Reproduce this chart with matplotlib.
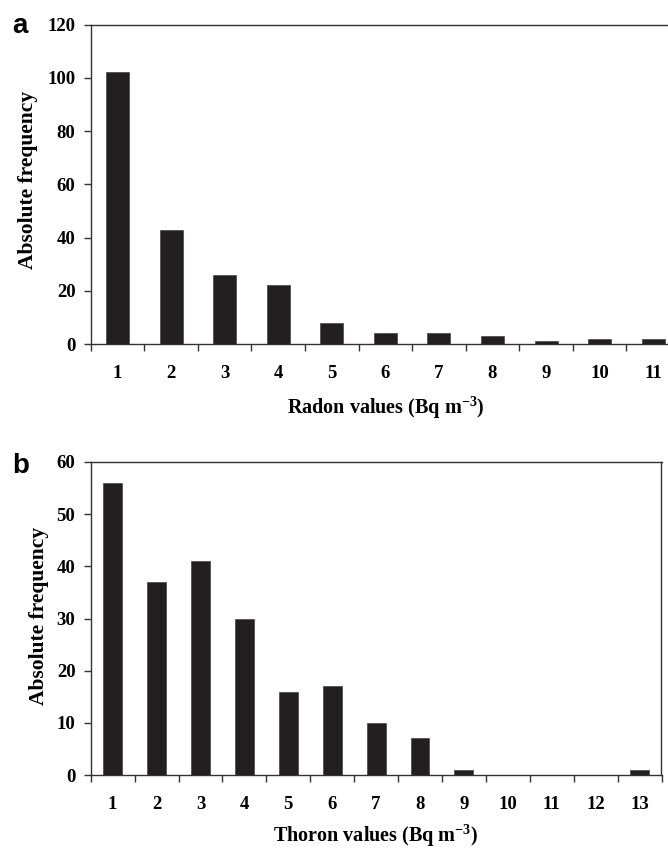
import matplotlib
matplotlib.use("Agg")
import matplotlib.pyplot as plt
import numpy as np

radon_classes = ["1", "2", "3", "4", "5", "6", "7", "8", "9", "10", "11"]
radon_freq = [102, 43, 26, 22, 8, 4, 4, 3, 1, 2, 2]

thoron_classes = ["1", "2", "3", "4", "5", "6", "7", "8", "9", "10", "11", "12", "13"]
thoron_freq = [56, 37, 41, 30, 16, 17, 10, 7, 1, 0, 0, 0, 1]

plt.rcParams['font.family'] = ['Liberation Serif', 'DejaVu Serif']
plt.rcParams['font.weight'] = 'bold'
plt.rcParams['mathtext.fontset'] = 'custom'
plt.rcParams['mathtext.rm'] = 'Liberation Serif:bold'
plt.rcParams['mathtext.it'] = 'Liberation Serif:bold'
plt.rcParams['mathtext.bf'] = 'Liberation Serif:bold'
plt.rcParams['mathtext.default'] = 'regular'

W, H = 668, 852
fig = plt.figure(figsize=(W / 100, H / 100), dpi=100)

def frac(x0, y0, x1, y1):
    return [x0 / W, 1 - y1 / H, (x1 - x0) / W, (y1 - y0) / H]

spine_col = '#333333'
bar_col = '#231f20'
TICK_FS = 13.5

def style(ax, classes, values, ymax, ystep, xlabel, xl_y, yl_x, yl_y):
    n = len(classes)
    x = np.arange(n)
    ax.bar(x, values, width=0.43, color=bar_col, edgecolor='#444444', linewidth=0.5, zorder=3)
    ax.set_xlim(-0.5, n - 0.5)
    ax.set_ylim(0, ymax)
    yt = np.arange(0, ymax + 1, ystep)
    ax.set_yticks(yt, [str(v) for v in yt], fontweight='bold', fontsize=TICK_FS)
    ax.set_xticks(x, classes, fontweight='bold', fontsize=TICK_FS)
    ax.set_xticks(np.arange(-0.5, n, 1.0), minor=True)
    ax.tick_params(axis='x', which='major', length=0, pad=15)
    ax.tick_params(axis='x', which='minor', length=5, width=1, color=spine_col, direction='out')
    ax.tick_params(axis='y', which='major', length=5, width=1, color=spine_col, direction='out', pad=6)
    for s in ax.spines.values():
        s.set_color(spine_col)
        s.set_linewidth(1.0)
    ax.set_xlabel(xlabel, fontsize=14.5, fontweight='bold')
    ax.set_ylabel('Absolute frequency', fontsize=15.5, fontweight='bold')
    ax.xaxis.set_label_coords(0.5, xl_y)
    ax.yaxis.set_label_coords(yl_x, yl_y)

ax1 = fig.add_axes(frac(90.7, 24.5, 680, 344))
style(ax1, radon_classes, radon_freq, 120, 20, r'Radon values (Bq m$^{-3}$)', -0.16, -0.0894, 0.513)

ax2 = fig.add_axes(frac(90.7, 462, 661.5, 775))
style(ax2, thoron_classes, thoron_freq, 60, 10, r'Thoron values (Bq m$^{-3}$)', -0.153, -0.073, 0.508)

fig.text(12 / W, 1 - 33 / H, 'a', fontsize=20, fontweight='bold', family=['Liberation Sans', 'DejaVu Sans'], va='baseline', ha='left')
fig.text(12 / W, 1 - 473 / H, 'b', fontsize=20, fontweight='bold', family=['Liberation Sans', 'DejaVu Sans'], va='baseline', ha='left')

fig.savefig('out.png', dpi=100)
